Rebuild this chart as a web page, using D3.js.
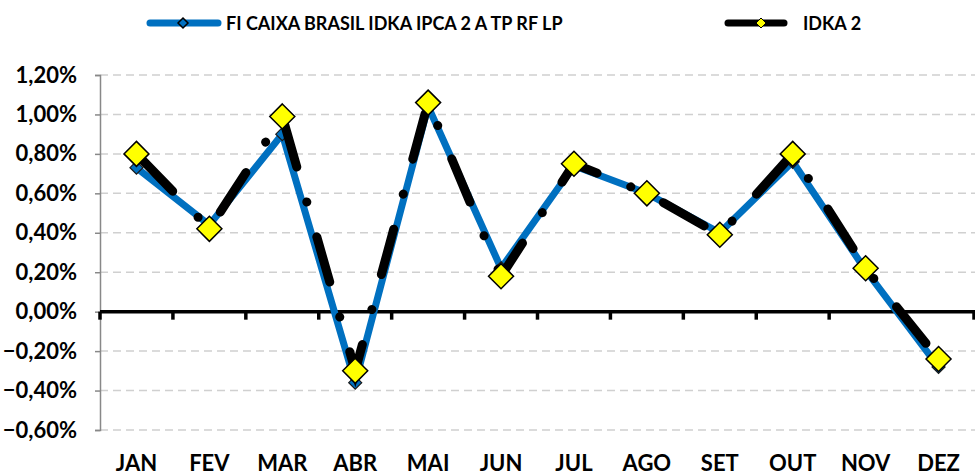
<!DOCTYPE html>
<html>
<head>
<meta charset="utf-8">
<script src="https://cdn.jsdelivr.net/npm/d3@7"></script>
<style>
  body { margin: 0; background: #fff; }
  svg text { font-family: Lato, "Open Sans", sans-serif; font-weight: 700; fill: #000; }
</style>
</head>
<body>
<div id="chart"></div>
<script>
// data (monthly returns, %)
const months = ['JAN', 'FEV', 'MAR', 'ABR', 'MAI', 'JUN', 'JUL', 'AGO', 'SET', 'OUT', 'NOV', 'DEZ'];
const fundName = 'FI CAIXA BRASIL IDKA IPCA 2 A TP RF LP';
const fundValues = [0.73, 0.44, 0.90, -0.36, 1.04, 0.22, 0.74, 0.60, 0.40, 0.76, 0.21, -0.28];
const idkaName = 'IDKA 2';
const idkaValues = [0.80, 0.42, 0.99, -0.30, 1.06, 0.18, 0.75, 0.60, 0.39, 0.80, 0.22, -0.24];
const yTicks = [-0.6, -0.4, -0.2, 0, 0.2, 0.4, 0.6, 0.8, 1.0, 1.2];

const W = 975, H = 475;
const margin = {top: 75, right: 0, bottom: 45, left: 100};

const svg = d3.select('#chart').append('svg')
  .attr('width', W)
  .attr('height', H);

const x = d3.scaleBand()
  .domain(months)
  .range([margin.left, W - margin.right]);

const y = d3.scaleLinear()
  .domain([-0.6, 1.2])
  .range([H - margin.bottom, margin.top]);

const fmt = v => d3.format('.2f')(v).replace('.', ',') + '%';

// gridlines
svg.append('g')
  .selectAll('line')
  .data(yTicks.filter(t => t !== 0))
  .join('line')
  .attr('x1', margin.left)
  .attr('x2', W - margin.right)
  .attr('y1', d => y(d))
  .attr('y2', d => y(d))
  .attr('stroke', '#d0d0d0')
  .attr('stroke-width', 1.5)
  .attr('stroke-dasharray', '8,5');

// y axis
const yAxis = svg.append('g')
  .attr('transform', `translate(${margin.left},0)`)
  .call(d3.axisLeft(y).tickValues(yTicks).tickFormat(fmt).tickSize(5).tickPadding(18));
yAxis.select('.domain').attr('stroke', '#888').attr('stroke-width', 1.5);
yAxis.selectAll('.tick line').attr('stroke', '#888').attr('stroke-width', 1.5);
yAxis.selectAll('text')
  .attr('font-size', 22)
  .attr('font-family', 'Lato, sans-serif')
  .attr('font-weight', 700)
  .attr('fill', '#000');

// zero line with category ticks
const zeroY = y(0);
svg.append('line')
  .attr('x1', margin.left)
  .attr('x2', W - margin.right)
  .attr('y1', zeroY)
  .attr('y2', zeroY)
  .attr('stroke', '#000')
  .attr('stroke-width', 3.5);
const bounds = months.map(m => x(m)).concat([W - margin.right - 1]);
svg.append('g')
  .selectAll('line')
  .data(bounds)
  .join('line')
  .attr('x1', d => d)
  .attr('x2', d => d)
  .attr('y1', zeroY)
  .attr('y2', zeroY + 8)
  .attr('stroke', '#000')
  .attr('stroke-width', 3.5);

// category labels
svg.append('g')
  .selectAll('text')
  .data(months)
  .join('text')
  .attr('x', d => x(d) + x.bandwidth() / 2)
  .attr('y', 471)
  .attr('text-anchor', 'middle')
  .attr('font-size', 22)
  .text(d => d);

const cx = i => x(months[i]) + x.bandwidth() / 2;
const line = d3.line().x((d, i) => cx(i)).y(d => y(d));

// fund series (blue)
svg.append('path')
  .datum(fundValues)
  .attr('fill', 'none')
  .attr('stroke', '#0070c0')
  .attr('stroke-width', 7)
  .attr('stroke-linejoin', 'round')
  .attr('d', line);

const diamond = (s) => `M0,${-s}L${s},0L0,${s}L${-s},0Z`;

svg.append('g')
  .selectAll('path')
  .data(fundValues)
  .join('path')
  .attr('transform', (d, i) => `translate(${cx(i)},${y(d)})`)
  .attr('d', diamond(6.5))
  .attr('fill', '#0070c0')
  .attr('stroke', '#1a1a1a')
  .attr('stroke-width', 1.2);

// IDKA series (black long-dash-dot)
svg.append('path')
  .datum(idkaValues)
  .attr('fill', 'none')
  .attr('stroke', '#000')
  .attr('stroke-width', 9)
  .attr('stroke-linecap', 'round')
  .attr('stroke-dasharray', '47,36.3,0.1,36.2')
  .attr('stroke-dashoffset', -5)
  .attr('d', line);

svg.append('g')
  .selectAll('path')
  .data(idkaValues)
  .join('path')
  .attr('transform', (d, i) => `translate(${cx(i)},${y(d)})`)
  .attr('d', diamond(12.5))
  .attr('fill', '#ffff00')
  .attr('stroke', '#000')
  .attr('stroke-width', 1.5);

// legend
const leg = svg.append('g');
leg.append('line')
  .attr('x1', 150).attr('x2', 218).attr('y1', 23).attr('y2', 23)
  .attr('stroke', '#0070c0').attr('stroke-width', 7).attr('stroke-linecap', 'round');
leg.append('path')
  .attr('transform', 'translate(183,23)')
  .attr('d', diamond(5))
  .attr('fill', '#0070c0').attr('stroke', '#000').attr('stroke-width', 1.5);
leg.append('text')
  .attr('x', 226).attr('y', 30).attr('font-size', 18)
  .text(fundName);

leg.append('line')
  .attr('x1', 728).attr('x2', 784).attr('y1', 23).attr('y2', 23)
  .attr('stroke', '#000').attr('stroke-width', 7).attr('stroke-linecap', 'round');
leg.append('path')
  .attr('transform', 'translate(761,23)')
  .attr('d', diamond(5))
  .attr('fill', '#ffff00').attr('stroke', '#000').attr('stroke-width', 1);
leg.append('text')
  .attr('x', 803).attr('y', 30).attr('font-size', 18)
  .text(idkaName);
</script>
</body>
</html>
